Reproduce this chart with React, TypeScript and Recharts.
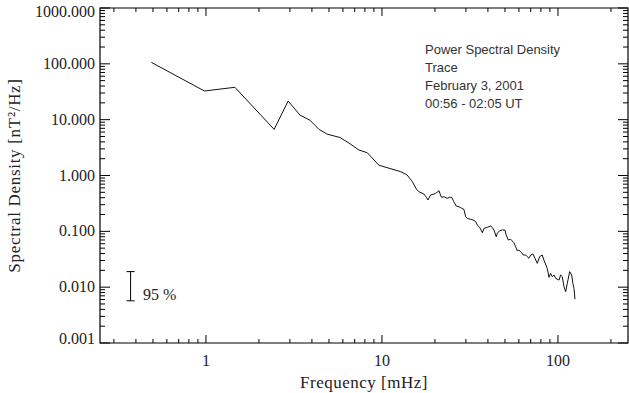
import React from 'react'
import { LineChart, Line, XAxis, YAxis, ReferenceArea, ReferenceLine } from 'recharts'

// frequency in mHz, PSD in nT^2/Hz
const FREQ = [
  0.49, 0.98, 1.46, 2.44, 2.93, 3.42, 3.9, 4.39, 4.88, 5.77, 6.1, 6.5, 7.4, 8.25, 9.6,
  10.96, 12.8, 13.9, 14.9, 15.7, 16.2, 17.3, 17.9, 18.25, 18.9, 19.5, 20.2, 21.1, 21.5,
  21.8, 22.5, 23.5, 24.2, 24.9, 25.6, 26.4, 27.4, 28.4, 29.2, 29.9, 30.5, 31.9, 32.9,
  34.1, 34.8, 35.9, 37.2, 38.0, 39.7, 41.5, 42.3, 43.3, 44.6, 45.2, 46.6, 48.3, 50,
  50.8, 52.2, 53.9, 56.2, 57.5, 58.7, 60, 62.2, 63.5, 65.6, 66.9, 68.4, 70, 72.1, 74,
  76.3, 78.7, 81.4, 83.2, 86.9, 88.9, 90.8, 92.8, 94.9, 97.1, 101.4, 103.5, 105.8, 108.2,
  110.6, 113, 116.5, 119.6, 121.6, 123.3, 124.9,
]
const PSD = [
  106, 32.6, 38, 6.7, 21.6, 12.1, 9.75, 6.7, 5.5, 4.8, 4.3, 3.8, 2.86, 2.56, 1.53,
  1.35, 1.17, 1.02, 0.77, 0.57, 0.513, 0.466, 0.407, 0.364, 0.448, 0.46, 0.48, 0.534, 0.448,
  0.407, 0.417, 0.39, 0.407, 0.407, 0.34, 0.284, 0.276, 0.258, 0.248, 0.183, 0.171, 0.164, 0.16,
  0.149, 0.13, 0.118, 0.0945, 0.113, 0.118, 0.1245, 0.118, 0.1057, 0.08, 0.092, 0.1026, 0.1057, 0.1056,
  0.086, 0.07, 0.072, 0.0626, 0.053, 0.045, 0.046, 0.0414, 0.0377, 0.0377, 0.0352, 0.0329, 0.0377, 0.0393, 0.0329,
  0.0267, 0.0352, 0.0377, 0.0306, 0.0218, 0.015, 0.0177, 0.0154, 0.0165, 0.0144, 0.0134, 0.0165, 0.0154, 0.0102,
  0.0083, 0.0117, 0.019, 0.0165, 0.0117, 0.0095, 0.0061,
]

const X_DOMAIN = [0.25, 250]
const Y_DOMAIN = [0.001, 1000]
const X_MAJOR = [1, 10, 100]
const Y_MAJOR = [0.001, 0.01, 0.1, 1, 10, 100, 1000]

// 95% confidence bar
const CONF_FREQ = 0.373
const CONF_LOW = 0.0057
const CONF_HIGH = 0.019

const NOTE_LINES = ['Power Spectral Density', 'Trace', 'February 3, 2001', '00:56 - 02:05 UT']

const data = FREQ.map((f, i) => ({ f, p: PSD[i] }))

function minorTicks(lo: number, hi: number) {
  const out: number[] = []
  for (let d = Math.floor(Math.log10(lo)); d <= Math.ceil(Math.log10(hi)); d++) {
    for (let m = 1; m < 10; m++) {
      const v = Number((m * Math.pow(10, d)).toPrecision(6))
      if (v >= lo - 1e-9 && v <= hi + 1e-9) out.push(v)
    }
  }
  return out
}

const xTicks = minorTicks(X_DOMAIN[0], X_DOMAIN[1])
const yTicks = minorTicks(Y_DOMAIN[0], Y_DOMAIN[1])

const W = 629
const H = 393
const LEFT = 100
const RIGHT = 628
const TOP = 8
const BOTTOM = 343
const SERIF = '"Liberation Serif", serif'

const isMajor = (v: number, majors: number[]) => majors.some((m) => Math.abs(m - v) / m < 1e-6)

function XTick(props: any) {
  const { x, payload } = props
  const major = isMajor(payload.value, X_MAJOR)
  const len = major ? 8 : 4
  return (
    <g>
      <line x1={x} x2={x} y1={BOTTOM} y2={BOTTOM - len} stroke="#000" />
      <line x1={x} x2={x} y1={TOP} y2={TOP + len} stroke="#000" />
      {major && (
        <text x={x} y={BOTTOM + 23} textAnchor="middle" fontFamily={SERIF} fontSize={16} fill="#222">
          {payload.value}
        </text>
      )}
    </g>
  )
}

function YTick(props: any) {
  const { y, payload } = props
  const major = isMajor(payload.value, Y_MAJOR)
  const len = major ? 10 : 5
  let ly = y + 5
  if (payload.value === 1000) ly += 4
  if (payload.value === 0.001) ly -= 4
  return (
    <g>
      <line x1={LEFT} x2={LEFT + len} y1={y} y2={y} stroke="#000" />
      <line x1={RIGHT} x2={RIGHT - len} y1={y} y2={y} stroke="#000" />
      {major && (
        <text x={LEFT - 5} y={ly} textAnchor="end" fontFamily={SERIF} fontSize={16} fill="#222">
          {payload.value.toFixed(3)}
        </text>
      )}
    </g>
  )
}

const capL = CONF_FREQ / Math.pow(10, 0.023)
const capR = CONF_FREQ * Math.pow(10, 0.023)

export default function App() {
  return (
    <div style={{ position: 'absolute', left: 0, top: 0, width: W, height: H, background: '#fff' }}>
      <LineChart width={W} height={H} data={data} margin={{ top: TOP, right: W - RIGHT, bottom: 0, left: 0 }}>
        <XAxis
          dataKey="f"
          type="number"
          scale="log"
          domain={X_DOMAIN}
          allowDataOverflow
          ticks={xTicks}
          interval={0}
          tick={<XTick />}
          tickLine={false}
          tickSize={0}
          tickMargin={0}
          axisLine={false}
          height={H - BOTTOM}
          label={{
            value: 'Frequency [mHz]',
            position: 'insideBottom',
            offset: 5,
            style: { fontFamily: SERIF, fontSize: 17, fill: '#222', letterSpacing: 0.5 },
          }}
        />
        <YAxis
          type="number"
          scale="log"
          domain={Y_DOMAIN}
          allowDataOverflow
          ticks={yTicks}
          interval={0}
          tick={<YTick />}
          tickLine={false}
          tickSize={0}
          tickMargin={0}
          axisLine={false}
          width={LEFT}
          label={{
            content: () => (
              <text
                transform={`translate(20,${(TOP + BOTTOM) / 2}) rotate(-90)`}
                textAnchor="middle"
                fontFamily={SERIF}
                fontSize={17}
                fill="#222"
                letterSpacing={0.7}
              >
                Spectral Density [nT²/Hz]
              </text>
            ),
          }}
        />
        <ReferenceArea
          x1={X_DOMAIN[0]}
          x2={X_DOMAIN[1]}
          y1={Y_DOMAIN[0]}
          y2={Y_DOMAIN[1]}
          fill="none"
          stroke="#000"
          strokeWidth={1.2}
          fillOpacity={0}
        />
        <ReferenceLine segment={[{ x: CONF_FREQ, y: CONF_LOW }, { x: CONF_FREQ, y: CONF_HIGH }]} stroke="#000" />
        <ReferenceLine segment={[{ x: capL, y: CONF_LOW }, { x: capR, y: CONF_LOW }]} stroke="#000" />
        <ReferenceLine segment={[{ x: capL, y: CONF_HIGH }, { x: capR, y: CONF_HIGH }]} stroke="#000" />
        <Line dataKey="p" stroke="#111" strokeWidth={1} dot={false} isAnimationActive={false} />
      </LineChart>
      <div
        style={{
          position: 'absolute',
          left: 143,
          top: 287,
          fontFamily: SERIF,
          fontSize: 16,
          color: '#222',
          lineHeight: '16px',
          whiteSpace: 'nowrap',
        }}
      >
        95 %
      </div>
      <div
        style={{
          position: 'absolute',
          left: 425,
          top: 41,
          fontFamily: '"Liberation Sans", sans-serif',
          fontSize: 13,
          lineHeight: '18px',
          color: '#333',
          whiteSpace: 'nowrap',
        }}
      >
        {NOTE_LINES.map((t) => (
          <div key={t}>{t}</div>
        ))}
      </div>
    </div>
  )
}
